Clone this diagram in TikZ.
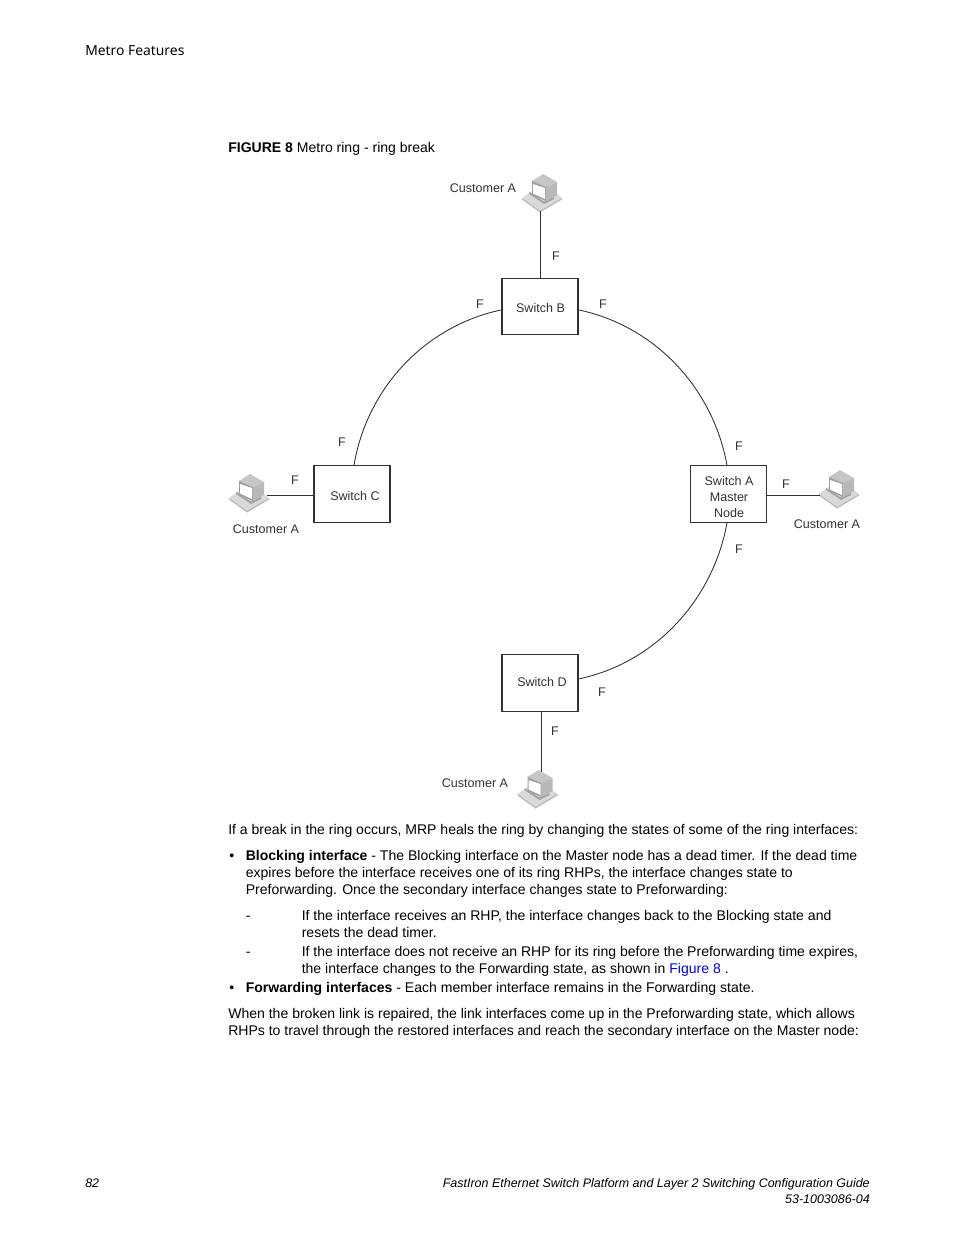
\documentclass[tikz,border=0pt]{standalone}
\usepackage{fontspec}
\setmainfont{Liberation Sans}
\newfontfamily\headfont{Noto Sans}
\definecolor{linkblue}{RGB}{0,0,238}
\definecolor{figink}{RGB}{50,50,50}
\tikzset{
  x=0.75pt,y=-0.75pt,
  bodytxt/.style={anchor=base west,inner sep=0pt,font=\fontsize{10.53pt}{12pt}\selectfont},
  foot/.style={anchor=base east,inner sep=0pt,font=\fontsize{9.35pt}{12pt}\selectfont\itshape},
  switchbox/.style={draw=figink,line width=0.8pt,minimum width=57pt,minimum height=42.5pt,inner sep=0pt},
  switchtxt/.style={inner sep=0pt,align=center,text=figink,font=\fontsize{9.4pt}{12pt}\selectfont},
  figlbl/.style={inner sep=0pt,text=figink,font=\fontsize{9.4pt}{11pt}\selectfont},
  link/.style={draw=figink,line width=0.65pt},
  pc/.pic={
    % keyboard base
    \fill[gray!30] (-18,-14) -- (0,0) -- (22,-14) -- (13,-21) -- (-8,-21) -- cycle;
    \fill[gray!55] (-18,-14) -- (0,-1) -- (22,-14) -- (22,-12.5) -- (0,0.5) -- (-18,-12.5) -- cycle;
    \fill[gray!70] (-11,-18) -- (4,-8) -- (14,-13) -- (14,-15) -- (4,-10.5) -- (-11,-20) -- cycle;
    % monitor
    \fill[gray!45] (-8,-31) -- (3,-38) -- (17,-30) -- (6,-25) -- cycle;
    \fill[gray!75] (-8,-31) -- (6,-25) -- (6,-11) -- (-8,-17) -- cycle;
    \fill[gray!55] (6,-25) -- (17,-30) -- (17,-17) -- (6,-11) -- cycle;
    \fill[white] (-7,-28) -- (5,-24) -- (5,-13) -- (-7,-18.5) -- cycle;
  }
}
\begin{document}
\begin{tikzpicture}
\useasboundingbox (0,0) rectangle (954,1235);
\fill[white] (0,0) rectangle (954,1235);
\node[anchor=base west,inner sep=0pt,font=\fontsize{10.4pt}{12pt}\headfont] (hdr) at (85,55) {Metro Features};
\node[bodytxt] (figcap) at (228,152) {\textbf{FIGURE 8} Metro ring - ring break};

% switches
\node[switchbox] (swB) at (540,306.5) {};
\node[switchbox] (swC) at (352,494) {};
\node[switchbox] (swA) at (728.5,494) {};
\node[switchbox] (swD) at (540,683) {};
\node[switchtxt] (txB) at (540.5,308) {Switch B};
\node[switchtxt] (txC) at (355,496) {Switch C};
\node[switchtxt] (txA) at (729,497) {Switch A\\Master\\Node};
\node[switchtxt] (txD) at (542,682) {Switch D};

% customers
\coordinate (pcB) at (540,212);
\coordinate (pcC) at (247,512);
\coordinate (pcA) at (837,508);
\coordinate (pcD) at (535.5,808);
\pic at (pcB) {pc};
\pic at (pcC) {pc};
\pic at (pcA) {pc};
\pic at (pcD) {pc};
\coordinate (endB) at (540,211);
\coordinate (endC) at (267,495);
\coordinate (endA) at (820,495);
\coordinate (endD) at (541,772);
\draw[link] (endB) -- (swB.north);
\draw[link] (endC) -- (endC -| swC.west);
\draw[link] (endA -| swA.east) -- (endA);
\draw[link] (swD.south -| endD) -- (endD);

% ring
\draw[link] (swB.185) .. controls (425,326) and (367,388) .. (swC.86);
\draw[link] (swB.355) .. controls (655,326) and (713,388) .. (swA.93);
\draw[link] (swA.267) .. controls (713,600) and (655,663) .. (swD.6);

% labels
\node[figlbl] (cuB) at (483,188) {Customer A};
\node[figlbl] (cuC) at (266,529) {Customer A};
\node[figlbl] (cuA) at (827,524.5) {Customer A};
\node[figlbl] (cuD) at (475,783) {Customer A};
\node[figlbl] (f1) at (556,256) {F};
\node[figlbl] (f2) at (480,304) {F};
\node[figlbl] (f3) at (603,304) {F};
\node[figlbl] (f4) at (342,442) {F};
\node[figlbl] (f5) at (739,446) {F};
\node[figlbl] (f6) at (295,480) {F};
\node[figlbl] (f7) at (786,484) {F};
\node[figlbl] (f8) at (739,549) {F};
\node[figlbl] (f9) at (602,692) {F};
\node[figlbl] (f10) at (555,731) {F};

% body
\node[bodytxt] (l1) at (228,834) {If a break in the ring occurs, MRP heals the ring by changing the states of some of the ring interfaces:};
\node[bodytxt] (b1) at (229,860) {•};
\node[bodytxt] (l2) at (245.5,860) {\textbf{Blocking interface} - The Blocking interface on the Master node has a dead timer. If the dead time};
\node[bodytxt] (l3) at (245.5,877) {expires before the interface receives one of its ring RHPs, the interface changes state to};
\node[bodytxt] (l4) at (245.5,894) {Preforwarding. Once the secondary interface changes state to Preforwarding:};
\node[bodytxt] (d1) at (245.5,920) {-};
\node[bodytxt] (l5) at (301.5,920) {If the interface receives an RHP, the interface changes back to the Blocking state and};
\node[bodytxt] (l6) at (301.5,937) {resets the dead timer.};
\node[bodytxt] (d2) at (245.5,956) {-};
\node[bodytxt] (l7) at (301.5,956) {If the interface does not receive an RHP for its ring before the Preforwarding time expires,};
\node[bodytxt] (l8) at (301.5,973) {the interface changes to the Forwarding state, as shown in \textcolor{linkblue}{Figure 8} .};
\node[bodytxt] (b2) at (229,992) {•};
\node[bodytxt] (l9) at (245.5,992) {\textbf{Forwarding interfaces} - Each member interface remains in the Forwarding state.};
\node[bodytxt] (l10) at (228,1018) {When the broken link is repaired, the link interfaces come up in the Preforwarding state, which allows};
\node[bodytxt] (l11) at (228,1035) {RHPs to travel through the restored interfaces and reach the secondary interface on the Master node:};

% footer
\node[anchor=base west,inner sep=0pt,font=\fontsize{9.35pt}{12pt}\selectfont\itshape] (pg) at (85,1187) {82};
\node[foot] (ft1) at (870,1187) {FastIron Ethernet Switch Platform and Layer 2 Switching Configuration Guide};
\node[foot] (ft2) at (870,1203) {53-1003086-04};
\end{tikzpicture}
\end{document}
